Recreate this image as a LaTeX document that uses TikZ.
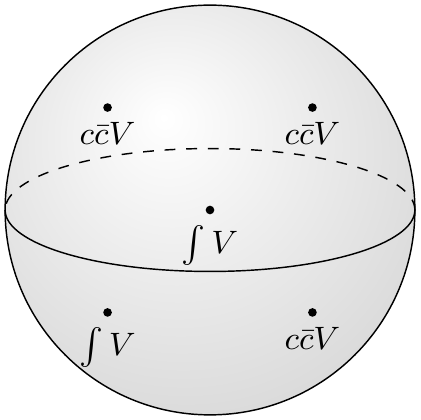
\documentclass[tikz,border=0pt]{standalone}
\usepackage{tikz}

\pgfdeclareradialshading{sphereshade}{\pgfpoint{-0.2cm}{0.4cm}}{%
  color(0bp)=(white); color(15bp)=(white!93!black); color(62bp)=(white!72!black)}

\begin{document}
\begin{tikzpicture}[scale=1.0,
    dot/.style={circle,fill=black,inner sep=0pt,minimum size=2.4pt},
    lbl/.style={below=0.7pt,font=\fontsize{9.3}{11}\selectfont}]
                \useasboundingbox (-2.05,-2.05) rectangle (2.05,2.05);
                % 球
                \shade[shading=sphereshade] (0,0) circle (2);
                \draw (0,0) circle (2);
                
                % 赤道
                \draw[dashed] (2,0) arc (0:180:2 and 0.6);
                \draw (-2,0) arc (180:360:2 and 0.6);
                
                % 点
                \foreach \name/\x/\y/\txt in {a/-1/1/{$c\bar cV$}, b/1/1/{$c\bar cV$},
                        c/0/0/{$\int V$}, d/-1/-1/{$\int V$}, e/1/-1/{$c\bar cV$}}
                    \node[dot] (\name) at (\x,\y) {} node[lbl] at (\name) {\txt};
            \end{tikzpicture}
\end{document}
